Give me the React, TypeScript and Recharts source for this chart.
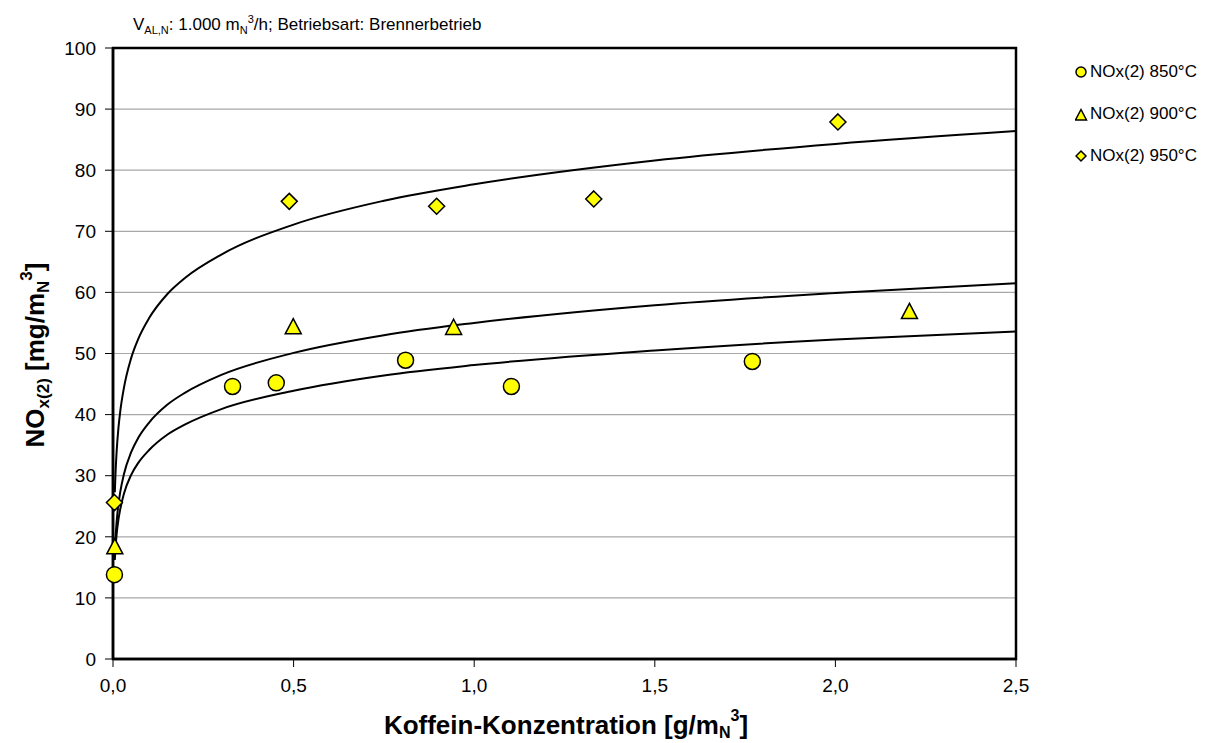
import { ComposedChart, Line, Scatter, XAxis, YAxis, CartesianGrid, ReferenceArea } from 'recharts';

// measured points
const x850 = [0.004, 0.331, 0.452, 0.81, 1.103, 1.77];
const y850 = [13.8, 44.6, 45.2, 48.9, 44.6, 48.7];
const x900 = [0.005, 0.499, 0.943, 2.205];
const y900 = [18.4, 54.4, 54.3, 56.9];
const x950 = [0.004, 0.488, 0.896, 1.331, 2.007];
const y950 = [25.6, 74.9, 74.1, 75.3, 87.9];

// trend curves
const trendX = [0.005, 0.007, 0.01, 0.015, 0.02, 0.03, 0.05, 0.07, 0.1, 0.15, 0.2, 0.3, 0.5, 0.75, 1, 1.5, 2, 2.5];
const trend850 = [16.2, 18.2, 20.4, 22.8, 24.5, 27.0, 30.1, 32.1, 34.2, 36.7, 38.4, 40.9, 43.9, 46.4, 48.1, 50.5, 52.3, 53.6];
const trend900 = [17.5, 19.9, 22.4, 25.3, 27.3, 30.2, 33.8, 36.2, 38.7, 41.6, 43.6, 46.5, 50.1, 53.0, 55.0, 57.9, 59.9, 61.5];
const trend950 = [27.3, 30.5, 33.9, 37.8, 40.5, 44.3, 49.2, 52.4, 55.8, 59.7, 62.4, 66.2, 71.1, 75.0, 77.7, 81.6, 84.3, 86.4];

const xTicks = [0, 0.5, 1, 1.5, 2, 2.5];
const yTicks = [0, 10, 20, 30, 40, 50, 60, 70, 80, 90, 100];
const seriesNames = ['NOx(2) 850°C', 'NOx(2) 900°C', 'NOx(2) 950°C'];

const pts = (xs: number[], ys: number[]) => xs.map((x, i) => ({ x, y: ys[i] }));

const YELLOW = '#ffff00';
const FONT = '"Liberation Sans", Arial, sans-serif';

function CircleMark({ cx, cy, r = 8 }: any) {
  return <circle cx={cx} cy={cy} r={r} fill={YELLOW} stroke="#000" strokeWidth={1.5} />;
}
function TriMark({ cx, cy, s = 8 }: any) {
  return (
    <polygon
      points={`${cx},${cy - s} ${cx + s},${cy + s * 0.9} ${cx - s},${cy + s * 0.9}`}
      fill={YELLOW}
      stroke="#000"
      strokeWidth={1.5}
    />
  );
}
function DiaMark({ cx, cy, s = 8 }: any) {
  return (
    <polygon
      points={`${cx},${cy - s} ${cx + s},${cy} ${cx},${cy + s} ${cx - s},${cy}`}
      fill={YELLOW}
      stroke="#000"
      strokeWidth={1.5}
    />
  );
}

function LegendBox() {
  const marks = [
    <CircleMark cx={6} cy={8} r={5} />,
    <TriMark cx={6} cy={9} s={5.5} />,
    <DiaMark cx={6} cy={8} s={5} />,
  ];
  return (
    <div style={{ position: 'absolute', left: 1067, top: 43, fontSize: 17 }}>
      {seriesNames.map((n, i) => (
        <div key={n} style={{ display: 'flex', alignItems: 'center', height: 42, whiteSpace: 'nowrap' }}>
          <svg width={13} height={16}>{marks[i]}</svg>
          <span style={{ marginLeft: 2 }}>{n}</span>
        </div>
      ))}
    </div>
  );
}

export default function App() {
  return (
    <div style={{ position: 'relative', width: 1199, height: 735, fontFamily: FONT }}>
      <ComposedChart width={1199} height={735} margin={{ top: 40, right: 191, bottom: 0, left: 0 }}>
        <CartesianGrid vertical={false} stroke="#a8a8a8" strokeWidth={1.2} />
        <XAxis
          type="number"
          dataKey="x"
          domain={[0, 2.5]}
          ticks={xTicks}
          height={84}
          tickFormatter={(v: number) => v.toFixed(1).replace('.', ',')}
          tick={{ fill: '#000', fontSize: 19, fontFamily: FONT }}
          tickLine={{ stroke: '#000' }}
          tickSize={8}
          tickMargin={12}
          axisLine={{ stroke: '#000', strokeWidth: 2.5 }}
        />
        <YAxis
          type="number"
          domain={[0, 100]}
          ticks={yTicks}
          width={105}
          tick={{ fill: '#000', fontSize: 19, fontFamily: FONT }}
          tickLine={{ stroke: '#000' }}
          tickSize={8}
          tickMargin={9}
          axisLine={{ stroke: '#000', strokeWidth: 2.5 }}
        />
        <ReferenceArea x1={0} x2={2.5} y1={0} y2={100} fill="none" stroke="#000" strokeWidth={2.5} ifOverflow="visible" />
        <Line data={pts(trendX, trend850)} dataKey="y" type="monotone" stroke="#000" strokeWidth={2} dot={false} isAnimationActive={false} />
        <Line data={pts(trendX, trend900)} dataKey="y" type="monotone" stroke="#000" strokeWidth={2} dot={false} isAnimationActive={false} />
        <Line data={pts(trendX, trend950)} dataKey="y" type="monotone" stroke="#000" strokeWidth={2} dot={false} isAnimationActive={false} />
        <Scatter name={seriesNames[0]} data={pts(x850, y850)} dataKey="y" shape={(p: any) => <CircleMark cx={p.cx} cy={p.cy} />} isAnimationActive={false} />
        <Scatter name={seriesNames[1]} data={pts(x900, y900)} dataKey="y" shape={(p: any) => <TriMark cx={p.cx} cy={p.cy} />} isAnimationActive={false} />
        <Scatter name={seriesNames[2]} data={pts(x950, y950)} dataKey="y" shape={(p: any) => <DiaMark cx={p.cx} cy={p.cy} />} isAnimationActive={false} />
      </ComposedChart>
      <LegendBox />
      <div style={{ position: 'absolute', left: 125, top: 5, fontSize: 17, whiteSpace: 'nowrap' }}>
        V<sub style={{ fontSize: 11 }}>AL,N</sub>: 1.000 m<sub style={{ fontSize: 11 }}>N</sub>
        <sup style={{ fontSize: 11 }}>3</sup>/h; Betriebsart: Brennerbetrieb
      </div>
      <svg style={{ position: 'absolute', left: 0, top: 0, pointerEvents: 'none' }} width={1199} height={735}>
        <text x={558} y={726} textAnchor="middle" fontWeight="bold" fontSize={26} fontFamily={FONT}>
          Koffein-Konzentration [g/m<tspan fontSize={16} dy={4}>N</tspan>
          <tspan fontSize={16} dy={-17}>3</tspan>
          <tspan dy={13}>]</tspan>
        </text>
        <text x={0} y={0} transform="translate(36,347) rotate(-90)" textAnchor="middle" fontWeight="bold" fontSize={26} fontFamily={FONT}>
          NO<tspan fontSize={17} dy={5}>x(2)</tspan>
          <tspan dy={-5}> [mg/m</tspan>
          <tspan fontSize={17} dy={5}>N</tspan>
          <tspan fontSize={17} dy={-17}>3</tspan>
          <tspan dy={12}>]</tspan>
        </text>
      </svg>
    </div>
  );
}
